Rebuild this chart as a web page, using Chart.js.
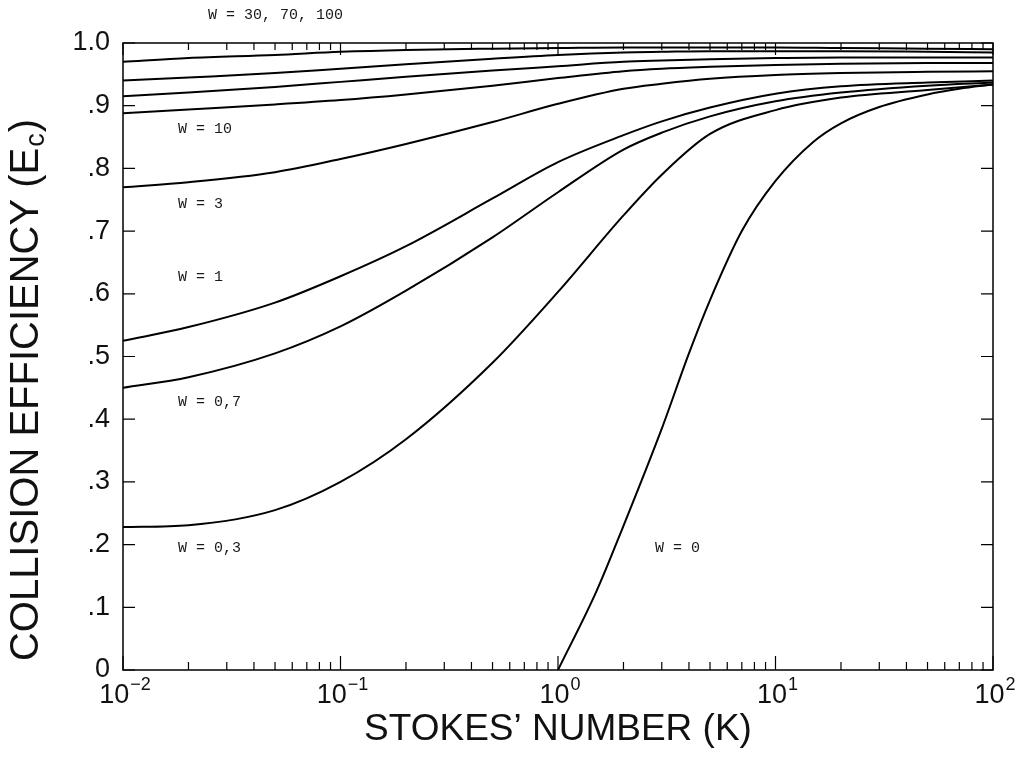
<!DOCTYPE html>
<html>
<head>
<meta charset="utf-8">
<script src="https://cdn.jsdelivr.net/npm/chart.js@4.4.0/dist/chart.umd.min.js"></script>
<style>
  html, body { margin: 0; padding: 0; background: #ffffff; }
  #wrap { position: relative; width: 1023px; height: 765px; }
</style>
</head>
<body>
<div id="wrap"><canvas id="c" width="1023" height="765"></canvas></div>
<script>
// ---------------- DATA ----------------
const K_GRID = [0.01, 0.02, 0.05, 0.1, 0.2, 0.5, 1, 2, 3, 5, 10, 20, 50, 100];
const E_W100 = [0.970, 0.976, 0.981, 0.986, 0.989, 0.991, 0.992, 0.993, 0.993, 0.993, 0.993, 0.992, 0.991, 0.990];
const E_W70  = [0.940, 0.945, 0.952, 0.959, 0.966, 0.975, 0.981, 0.985, 0.986, 0.987, 0.987, 0.987, 0.986, 0.985];
const E_W30  = [0.915, 0.921, 0.930, 0.938, 0.946, 0.956, 0.963, 0.970, 0.972, 0.974, 0.976, 0.977, 0.977, 0.977];
const E_W10  = [0.888, 0.894, 0.902, 0.909, 0.918, 0.932, 0.944, 0.955, 0.959, 0.962, 0.965, 0.967, 0.968, 0.968];
const E_W3   = [0.770, 0.778, 0.794, 0.815, 0.839, 0.874, 0.903, 0.927, 0.935, 0.943, 0.949, 0.952, 0.954, 0.955];
const E_W1   = [0.525, 0.547, 0.586, 0.628, 0.676, 0.752, 0.810, 0.853, 0.875, 0.897, 0.919, 0.931, 0.937, 0.940];
const E_W07  = [0.450, 0.467, 0.505, 0.548, 0.605, 0.690, 0.762, 0.830, 0.857, 0.883, 0.907, 0.921, 0.932, 0.937];
const E_W03  = [0.228, 0.231, 0.255, 0.300, 0.368, 0.490, 0.603, 0.725, 0.790, 0.855, 0.893, 0.913, 0.925, 0.934];
const K_W0   = [1, 1.5, 2, 3, 4, 5, 7, 10, 15, 20, 30, 50, 70, 100];
const E_W0   = [0, 0.125, 0.230, 0.385, 0.505, 0.590, 0.700, 0.780, 0.843, 0.872, 0.898, 0.918, 0.927, 0.934];

const SERIES_NAMES = ['W = 100', 'W = 70', 'W = 30', 'W = 10', 'W = 3', 'W = 1', 'W = 0.7', 'W = 0.3'];
const SERIES_VALUES = [E_W100, E_W70, E_W30, E_W10, E_W3, E_W1, E_W07, E_W03];

const X_MAJOR = [0.01, 0.1, 1, 10, 100];
const X_LABEL_BASE = ['10', '10', '10', '10', '10'];
const X_LABEL_EXP = ['\u22122', '\u22121', '0', '1', '2'];
const Y_TICKS = [0, 0.1, 0.2, 0.3, 0.4, 0.5, 0.6, 0.7, 0.8, 0.9, 1.0];
const Y_LABELS = ['0', '.1', '.2', '.3', '.4', '.5', '.6', '.7', '.8', '.9', '1.0'];

const X_TITLE = 'STOKES\u2019 NUMBER (K)';
const Y_TITLE_MAIN = 'COLLISION EFFICIENCY (E';
const Y_TITLE_SUB = 'c';
const Y_TITLE_END = ')';

// curve annotations: [text, K, E]
const ANNOT_TEXT = ['W = 30, 70, 100', 'W = 10', 'W = 3', 'W = 1', 'W = 0,7', 'W = 0,3', 'W = 0'];
const ANNOT_K    = [0.0246, 0.0179, 0.0179, 0.0179, 0.0179, 0.0179, 2.79];
const ANNOT_E    = [1.045, 0.863, 0.743, 0.626, 0.428, 0.195, 0.195];

// ---------------- BUILD ----------------
const allXTicks = [];
for (let e = -2; e <= 1; e++) {
  for (let m = 1; m <= 9; m++) allXTicks.push(+(m * Math.pow(10, e)).toPrecision(3));
}
allXTicks.push(100);

function mkSet(label, ks, vals) {
  return {
    label,
    data: ks.map((k, j) => ({ x: k, y: vals[j] })),
    borderColor: '#000',
    borderWidth: 2,
    pointRadius: 0,
    fill: false,
    cubicInterpolationMode: 'monotone'
  };
}
const datasets = SERIES_VALUES.map((vals, i) => mkSet(SERIES_NAMES[i], K_GRID, vals));
datasets.push(mkSet('W = 0', K_W0, E_W0));

const frame = {
  id: 'frame',
  afterDraw(chart) {
    const ctx = chart.ctx;
    const a = chart.chartArea;
    const xs = chart.scales.x, ys = chart.scales.y;
    ctx.save();
    ctx.strokeStyle = '#000';
    ctx.lineWidth = 1.5;
    ctx.strokeRect(a.left, a.top, a.right - a.left, a.bottom - a.top);
    ctx.lineWidth = 1.2;
    // x ticks (inward, bottom and top)
    allXTicks.forEach(v => {
      const px = xs.getPixelForValue(v);
      const major = X_MAJOR.some(m => Math.abs(m - v) / m < 1e-6);
      const lb = major ? 14 : 8;
      const lt = major ? 12 : 7;
      ctx.beginPath();
      ctx.moveTo(px, a.bottom); ctx.lineTo(px, a.bottom - lb);
      ctx.moveTo(px, a.top); ctx.lineTo(px, a.top + lt);
      ctx.stroke();
    });
    // y ticks (inward, left and right)
    Y_TICKS.forEach(v => {
      const py = ys.getPixelForValue(v);
      ctx.beginPath();
      ctx.moveTo(a.left, py); ctx.lineTo(a.left + 12, py);
      ctx.moveTo(a.right, py); ctx.lineTo(a.right - 12, py);
      ctx.stroke();
    });
    // x tick labels with superscripts
    const baseF = '27px "Liberation Sans", Arial, sans-serif';
    const expF = '18px "Liberation Sans", Arial, sans-serif';
    ctx.fillStyle = '#111';
    ctx.textAlign = 'left';
    ctx.textBaseline = 'alphabetic';
    X_MAJOR.forEach((v, i) => {
      const px = xs.getPixelForValue(v);
      ctx.font = baseF;
      const wb = ctx.measureText(X_LABEL_BASE[i]).width;
      ctx.font = expF;
      const we = ctx.measureText(X_LABEL_EXP[i]).width;
      const x0 = px - (wb + we + 1) / 2 + 2;
      ctx.font = baseF;
      ctx.fillText(X_LABEL_BASE[i], x0, a.bottom + 33);
      ctx.font = expF;
      ctx.fillText(X_LABEL_EXP[i], x0 + wb + 1, a.bottom + 20);
    });
    // annotations
    ctx.fillStyle = '#1a1a1a';
    ctx.font = '15px "Liberation Mono", "DejaVu Sans Mono", monospace';
    ctx.textAlign = 'left';
    ctx.textBaseline = 'middle';
    ANNOT_TEXT.forEach((t, i) => {
      ctx.fillText(t, xs.getPixelForValue(ANNOT_K[i]), ys.getPixelForValue(ANNOT_E[i]));
    });
    // y title with subscript
    ctx.translate(27, 390);
    ctx.rotate(-Math.PI / 2);
    const bigF = '40px "Liberation Sans", Arial, sans-serif';
    const smallF = '27px "Liberation Sans", Arial, sans-serif';
    ctx.font = bigF;
    const w1 = ctx.measureText(Y_TITLE_MAIN).width;
    const w3 = ctx.measureText(Y_TITLE_END).width;
    ctx.font = smallF;
    const w2 = ctx.measureText(Y_TITLE_SUB).width;
    const total = w1 + w2 + w3 + 2;
    const x0 = -total / 2;
    ctx.fillStyle = '#111';
    ctx.textBaseline = 'middle';
    ctx.font = bigF;
    ctx.fillText(Y_TITLE_MAIN, x0, 0);
    ctx.font = smallF;
    ctx.fillText(Y_TITLE_SUB, x0 + w1 + 1, 10);
    ctx.font = bigF;
    ctx.fillText(Y_TITLE_END, x0 + w1 + w2 + 2, 0);
    ctx.restore();
  }
};

new Chart(document.getElementById('c'), {
  type: 'line',
  data: { datasets },
  options: {
    responsive: false,
    animation: false,
    events: [],
    layout: { padding: { top: 43, right: 30, left: 0, bottom: 0 } },
    plugins: { legend: { display: false }, tooltip: { enabled: false } },
    scales: {
      x: {
        type: 'logarithmic',
        min: 0.01,
        max: 100,
        afterBuildTicks: s => { s.ticks = allXTicks.map(v => ({ value: v })); },
        afterFit: s => { s.height = 95; },
        grid: { display: false, drawTicks: false },
        border: { display: false },
        ticks: { display: false },
        title: {
          display: true,
          text: X_TITLE,
          color: '#111',
          font: { family: '"Liberation Sans", Arial, sans-serif', size: 37 },
          padding: { top: 0, bottom: 13 }
        }
      },
      y: {
        type: 'linear',
        min: 0,
        max: 1,
        afterBuildTicks: s => { s.ticks = Y_TICKS.map(v => ({ value: v })); },
        afterFit: s => { s.width = 123; },
        grid: { display: false, drawTicks: false },
        border: { display: false },
        ticks: {
          padding: 13,
          color: '#111',
          font: { family: '"Liberation Sans", Arial, sans-serif', size: 27 },
          callback: (v) => {
            const i = Y_TICKS.findIndex(t => Math.abs(t - v) < 1e-6);
            return i >= 0 ? Y_LABELS[i] : '';
          }
        }
      }
    }
  },
  plugins: [frame]
});
</script>
</body>
</html>
